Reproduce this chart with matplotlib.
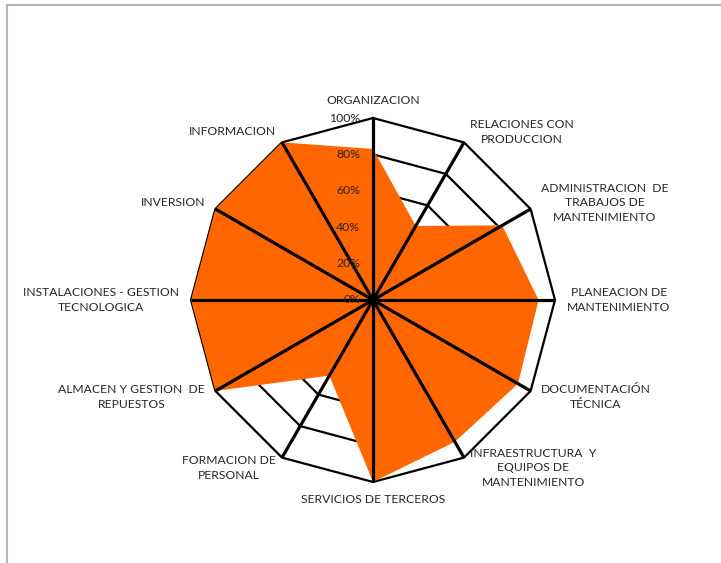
import matplotlib.pyplot as plt
import numpy as np
from matplotlib.lines import Line2D

plt.rcParams['font.family'] = ['Lato', 'DejaVu Sans']

categorias = [
    "ORGANIZACION",
    "RELACIONES CON\nPRODUCCION",
    "ADMINISTRACION  DE\nTRABAJOS DE\nMANTENIMIENTO",
    "PLANEACION DE\nMANTENIMIENTO",
    "DOCUMENTACIÓN\nTÉCNICA",
    "INFRAESTRUCTURA  Y\nEQUIPOS DE\nMANTENIMIENTO",
    "SERVICIOS DE TERCEROS",
    "FORMACION DE\nPERSONAL",
    "ALMACEN Y GESTION  DE\nREPUESTOS",
    "INSTALACIONES - GESTION\nTECNOLOGICA",
    "INVERSION",
    "INFORMACION",
]
valores = [83, 47, 82, 91, 92, 90, 100, 48, 100, 100, 100, 100]
niveles = [20, 40, 60, 80, 100]
etiquetas_niveles = ["0%", "20%", "40%", "60%", "80%", "100%"]

fig = plt.figure(figsize=(7.21, 5.63), dpi=100)
ax = fig.add_axes([0.2649, 0.1439, 0.5049, 0.6465], projection='polar')
ax.set_theta_offset(np.pi / 2)
ax.set_theta_direction(-1)
ax.set_ylim(0, 100)
ax.axis('off')

n = len(categorias)
ang = np.arange(n) * 2 * np.pi / n
ang_c = np.append(ang, ang[0])

# anillos poligonales (debajo del relleno)
for r in niveles:
    ax.plot(ang_c, [r] * (n + 1), color='black', lw=1.6, zorder=1, clip_on=False)

# serie
v = np.append(valores, valores[0])
ax.fill(ang_c, v, color='#FF6600', lw=0, zorder=2, clip_on=False)

# ejes radiales encima del relleno
for a in ang:
    ax.plot([a, a], [0, 100], color='black', lw=2.3, zorder=3, clip_on=False,
            solid_capstyle='butt')

# etiquetas de porcentaje
for r, t in zip([0] + niveles, etiquetas_niveles):
    ax.annotate(t, xy=(0, r), xytext=(-13, 0), textcoords='offset pixels',
                ha='right', va='center', fontsize=8.8, color='#262626',
                annotation_clip=False, zorder=4)

# etiquetas de categorias
for a, nombre in zip(ang, categorias):
    s, c = np.sin(a), np.cos(a)
    ha = 'left' if s > 0.1 else ('right' if s < -0.1 else 'center')
    va = 'bottom' if c > 0.9 else ('top' if c < -0.9 else 'center')
    ax.annotate(nombre, xy=(a, 100), xytext=(12 * s, 12 * c),
                textcoords='offset pixels', ha=ha, va=va,
                multialignment='center', fontsize=8.7, color='#262626',
                annotation_clip=False, linespacing=1.4)

# marco del area del grafico
fig.add_artist(Line2D([7 / 721, 1], [1 - 5 / 563, 1 - 5 / 563],
                      color='#b4b4b4', lw=1.5, transform=fig.transFigure))
fig.add_artist(Line2D([7 / 721, 7 / 721], [0, 1 - 5 / 563],
                      color='#b4b4b4', lw=1.5, transform=fig.transFigure))

fig.savefig('out.png', dpi=100)
